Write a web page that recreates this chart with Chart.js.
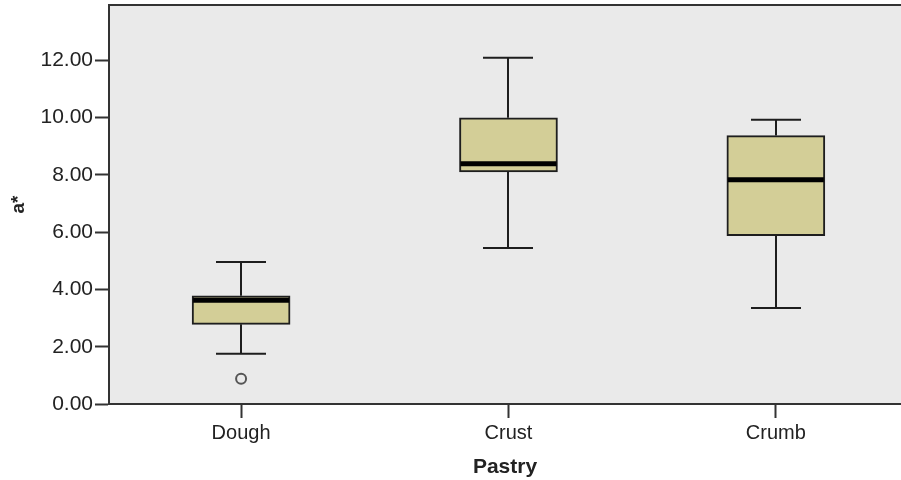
<!DOCTYPE html>
<html>
<head>
<meta charset="utf-8">
<script src="https://cdn.jsdelivr.net/npm/chart.js@4/dist/chart.umd.min.js"></script>
<style>
  html, body { margin: 0; padding: 0; background: #ffffff; overflow: hidden; }
  #wrap { width: 901px; height: 480px; position: relative; }
</style>
</head>
<body>
<div id="wrap"><canvas id="c" width="901" height="480"></canvas></div>
<script>
// ---- data ----
const categories   = ['Dough', 'Crust', 'Crumb'];
const whiskerLow   = [1.75, 5.45, 3.35];
const q1           = [2.78, 8.10, 5.88];
const median       = [3.62, 8.39, 7.83];
const q3           = [3.78, 9.99, 9.37];
const whiskerHigh  = [4.96, 12.09, 9.92];
const outlierCat   = [1];      // category position (1-based)
const outlierValue = [0.88];
const yTicks       = [0, 2, 4, 6, 8, 10, 12];

// ---- styles ----
const BOX_FILL = '#d3ce97';
const PLOT_BG = '#eaeaea';
const INK = '#1e1e1e';
const AXIS = '#333333';
const FONT = "'Liberation Sans', Arial, sans-serif";

const boxData = categories.map((c, i) => ({ x: i + 1, y: [q1[i], q3[i]] }));
const outData = outlierCat.map((c, i) => ({ x: c, y: outlierValue[i] }));

const boxPlugin = {
  id: 'boxExtras',
  beforeDraw(chart) {
    const { ctx, chartArea: a } = chart;
    ctx.save();
    ctx.fillStyle = PLOT_BG;
    ctx.fillRect(a.left, a.top, a.right - a.left, a.bottom - a.top);
    ctx.restore();
  },
  beforeDatasetsDraw(chart) {
    const { ctx, scales: { x, y } } = chart;
    ctx.save();
    ctx.strokeStyle = INK;
    ctx.lineWidth = 2;
    const capHalf = 25;
    categories.forEach((c, i) => {
      const px = Math.round(x.getPixelForValue(i + 1));
      const yl = y.getPixelForValue(whiskerLow[i]);
      const yq1 = y.getPixelForValue(q1[i]);
      const yq3 = y.getPixelForValue(q3[i]);
      const yh = y.getPixelForValue(whiskerHigh[i]);
      ctx.beginPath();
      ctx.moveTo(px, yl); ctx.lineTo(px, yq1);
      ctx.moveTo(px, yq3); ctx.lineTo(px, yh);
      ctx.moveTo(px - capHalf, yl); ctx.lineTo(px + capHalf, yl);
      ctx.moveTo(px - capHalf, yh); ctx.lineTo(px + capHalf, yh);
      ctx.stroke();
    });
    ctx.restore();
  },
  afterDatasetsDraw(chart) {
    const { ctx, scales: { x, y } } = chart;
    ctx.save();
    ctx.strokeStyle = '#000000';
    ctx.lineWidth = 5;
    const half = 48;
    categories.forEach((c, i) => {
      const px = x.getPixelForValue(i + 1);
      const ym = y.getPixelForValue(median[i]);
      ctx.beginPath();
      ctx.moveTo(px - half, ym); ctx.lineTo(px + half, ym);
      ctx.stroke();
    });
    ctx.restore();
  },
  afterDraw(chart) {
    const { ctx, chartArea: a } = chart;
    ctx.save();
    ctx.strokeStyle = AXIS;
    ctx.lineWidth = 2;
    ctx.beginPath();
    ctx.moveTo(a.left - 1, a.top);
    ctx.lineTo(a.right, a.top);
    ctx.stroke();
    ctx.restore();
  }
};

new Chart(document.getElementById('c'), {
  type: 'bar',
  data: {
    datasets: [
      {
        type: 'bar',
        data: boxData,
        backgroundColor: BOX_FILL,
        borderColor: INK,
        borderWidth: 2,
        borderSkipped: false,
        barThickness: 98,
        order: 2
      },
      {
        type: 'scatter',
        data: outData,
        pointStyle: 'circle',
        pointRadius: 5,
        pointBackgroundColor: PLOT_BG,
        pointBorderColor: '#555555',
        pointBorderWidth: 2,
        order: 1
      }
    ]
  },
  plugins: [boxPlugin],
  options: {
    responsive: false,
    animation: false,
    devicePixelRatio: 1,
    layout: { autoPadding: false, padding: { top: 5, right: 0, bottom: 0, left: 0 } },
    plugins: { legend: { display: false }, tooltip: { enabled: false } },
    scales: {
      x: {
        type: 'linear',
        min: 0.506,
        max: 3.468,
        offset: false,
        afterFit(scale) { scale.height = 76; scale.paddingLeft = 0; scale.paddingRight = 0; },
        afterBuildTicks(scale) { scale.ticks = categories.map((c, i) => ({ value: i + 1 })); },
        grid: { offset: false, drawOnChartArea: false, drawTicks: true, tickLength: 14, tickWidth: 2, tickColor: AXIS },
        border: { display: true, color: AXIS, width: 2 },
        ticks: {
          color: '#222222',
          font: { family: FONT, size: 20 },
          padding: 3,
          maxRotation: 0,
          autoSkip: false,
          callback: (v) => categories[Math.round(v) - 1] || ''
        },
        title: {
          display: true,
          text: 'Pastry',
          color: '#222222',
          font: { family: FONT, size: 21, weight: 'bold' },
          padding: { top: 0, bottom: 0 }
        }
      },
      y: {
        type: 'linear',
        min: 0,
        max: 13.93,
        afterFit(scale) { scale.width = 109; scale.paddingTop = 0; scale.paddingBottom = 0; },
        afterBuildTicks(scale) { scale.ticks = yTicks.map(v => ({ value: v })); },
        grid: { drawOnChartArea: false, drawTicks: true, tickLength: 14, tickWidth: 2, tickColor: AXIS },
        border: { display: true, color: AXIS, width: 2 },
        ticks: {
          color: '#222222',
          font: { family: FONT, size: 21 },
          padding: 2,
          callback: (v) => Number(v).toFixed(2)
        },
        title: {
          display: true,
          text: 'a*',
          color: '#222222',
          font: { family: FONT, size: 19, weight: 'bold' },
          padding: { top: 7, bottom: 0 }
        }
      }
    }
  }
});
</script>
</body>
</html>
